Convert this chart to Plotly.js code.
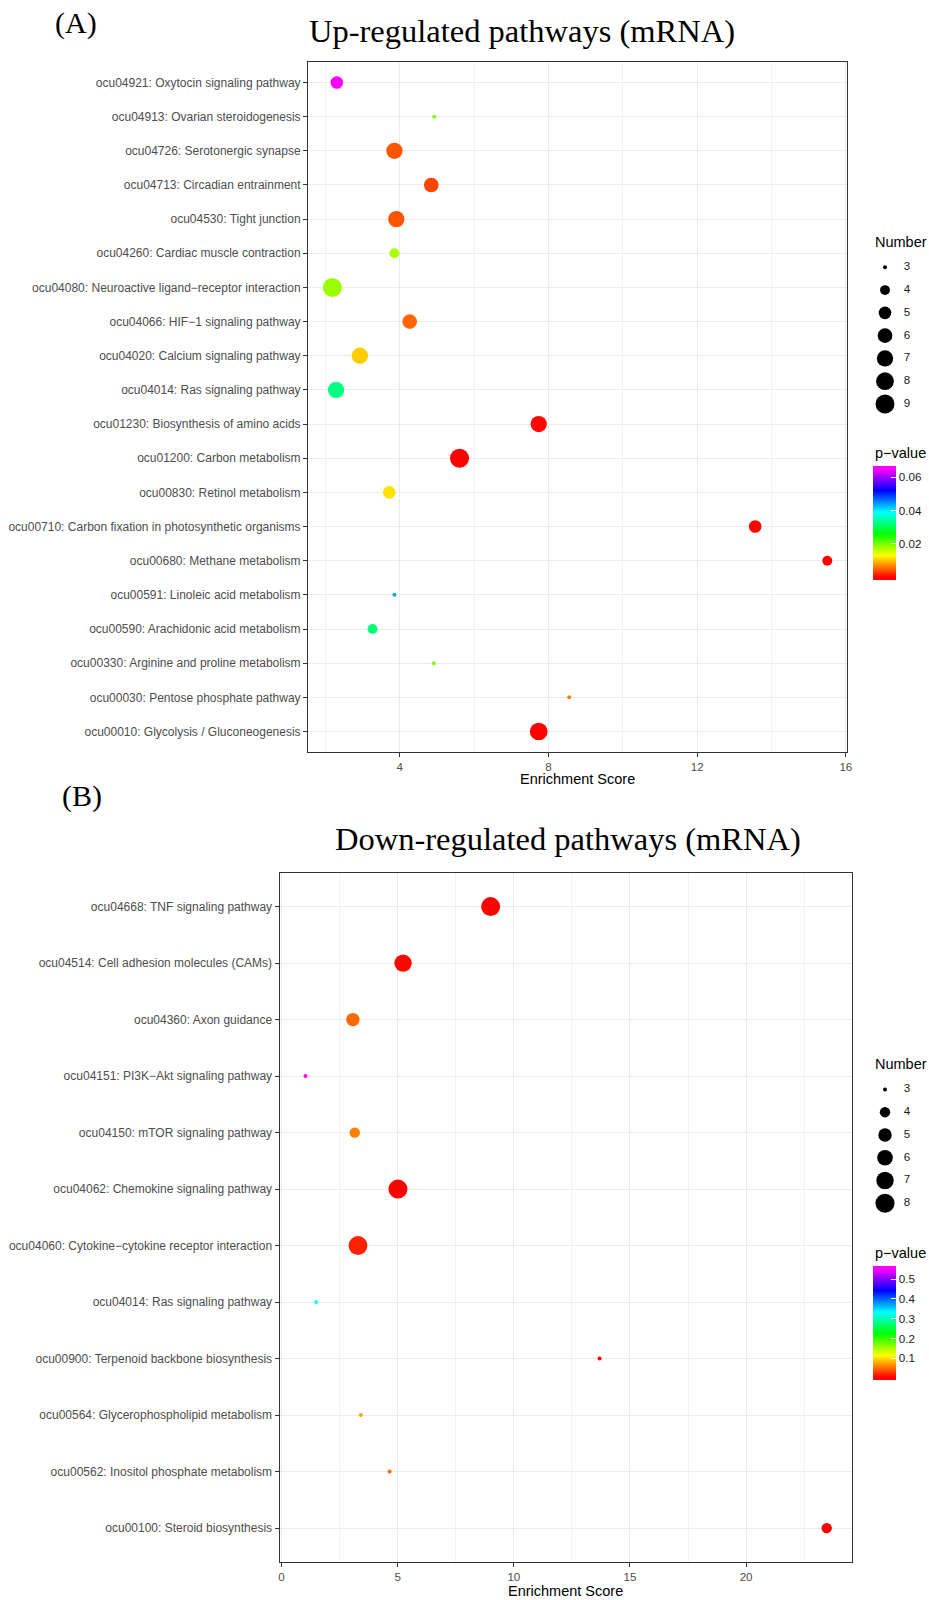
<!DOCTYPE html>
<html>
<head>
<meta charset="utf-8">
<script src="https://cdn.plot.ly/plotly-3.0.1.min.js"></script>
<style>html,body{margin:0;padding:0;background:#fff;}#chart{width:929px;height:1600px;}</style>
</head>
<body>
<div id="chart"></div>
<script>
// ---------------- DATA ----------------
const titleA = "Up-regulated pathways (mRNA)";
const titleB = "Down-regulated pathways (mRNA)";
const panelA = "(A)";
const panelB = "(B)";
const xTitle = "Enrichment Score";
const sizeTitle = "Number";
const colorTitle = "p\u2212value";

const pathwaysA = [
  "ocu04921: Oxytocin signaling pathway",
  "ocu04913: Ovarian steroidogenesis",
  "ocu04726: Serotonergic synapse",
  "ocu04713: Circadian entrainment",
  "ocu04530: Tight junction",
  "ocu04260: Cardiac muscle contraction",
  "ocu04080: Neuroactive ligand\u2212receptor interaction",
  "ocu04066: HIF\u22121 signaling pathway",
  "ocu04020: Calcium signaling pathway",
  "ocu04014: Ras signaling pathway",
  "ocu01230: Biosynthesis of amino acids",
  "ocu01200: Carbon metabolism",
  "ocu00830: Retinol metabolism",
  "ocu00710: Carbon fixation in photosynthetic organisms",
  "ocu00680: Methane metabolism",
  "ocu00591: Linoleic acid metabolism",
  "ocu00590: Arachidonic acid metabolism",
  "ocu00330: Arginine and proline metabolism",
  "ocu00030: Pentose phosphate pathway",
  "ocu00010: Glycolysis / Gluconeogenesis"
];
const scoreA  = [2.31, 4.93, 3.86, 4.85, 3.91, 3.86, 2.19, 4.27, 2.93, 2.29, 7.74, 5.61, 3.72, 13.56, 15.50, 3.86, 3.27, 4.92, 8.56, 7.74];
const numberA = [5, 3, 7, 6, 7, 4, 9, 6, 7, 7, 7, 9, 5, 5, 4, 3, 4, 3, 3, 8];
const pvalA   = [0.065, 0.0195, 0.0043, 0.0035, 0.0043, 0.0173, 0.0182, 0.0052, 0.0104, 0.0325, 0.0003, 0.0001, 0.0115, 0.0002, 0.0001, 0.0433, 0.0320, 0.0195, 0.0065, 0.0001];
const sizeBreaksA = [3, 4, 5, 6, 7, 8, 9];
const colorTicksA = [0.02, 0.04, 0.06];
const pLimitsA = [0.0, 0.065];

const pathwaysB = [
  "ocu04668: TNF signaling pathway",
  "ocu04514: Cell adhesion molecules (CAMs)",
  "ocu04360: Axon guidance",
  "ocu04151: PI3K\u2212Akt signaling pathway",
  "ocu04150: mTOR signaling pathway",
  "ocu04062: Chemokine signaling pathway",
  "ocu04060: Cytokine\u2212cytokine receptor interaction",
  "ocu04014: Ras signaling pathway",
  "ocu00900: Terpenoid backbone biosynthesis",
  "ocu00564: Glycerophospholipid metabolism",
  "ocu00562: Inositol phosphate metabolism",
  "ocu00100: Steroid biosynthesis"
];
const scoreB  = [9.00, 5.23, 3.07, 1.03, 3.15, 5.01, 3.29, 1.49, 13.69, 3.41, 4.65, 23.47];
const numberB = [8, 7, 5, 3, 4, 8, 8, 3, 3, 3, 3, 4];
const pvalB   = [0.005, 0.008, 0.049, 0.552, 0.060, 0.006, 0.019, 0.333, 0.005, 0.076, 0.049, 0.005];
const sizeBreaksB = [3, 4, 5, 6, 7, 8];
const colorTicksB = [0.1, 0.2, 0.3, 0.4, 0.5];
const pLimitsB = [0.005, 0.552];

// ---------------- STYLE HELPERS ----------------
const W = 929, H = 1600;
const px = v => v / W;            // horizontal pixel -> paper
const py = v => 1 - v / H;        // vertical pixel -> paper
const SANS = "Liberation Sans, Arial, sans-serif";
const SERIF = "Liberation Serif, Times New Roman, serif";
const AXIS_TXT = "#4D4D4D";
const GRID = "#EBEBEB";
const BORDER = "#333333";

function diameterFn(breaks) {
  const lo = Math.sqrt(Math.min(...breaks)), hi = Math.sqrt(Math.max(...breaks));
  return n => 4 + 15 * Math.pow((Math.sqrt(n) - lo) / (hi - lo), 0.6);
}
const diaA = diameterFn(sizeBreaksA);
const diaB = diameterFn(sizeBreaksB);

const rainbow = ["#FF0000", "#FFFF00", "#00FF00", "#00FFFF", "#0000FF", "#FF00FF"];
// ggplot's colorbar places the limits half a bin inside the bar; emulate by padding cmin/cmax
function colorAxis(lim, ticks, topPx) {
  const pad = (lim[1] - lim[0]) * 2.85 / 108.3;
  const cmin = lim[0] - pad, cmax = lim[1] + pad;
  const fr = v => (v - cmin) / (cmax - cmin);
  const scale = [[0, rainbow[0]]];
  rainbow.forEach((c, i) => scale.push([fr(lim[0] + (lim[1] - lim[0]) * i / 5), c]));
  scale.push([1, rainbow[5]]);
  return {
    cmin: cmin, cmax: cmax, colorscale: scale,
    colorbar: {
      x: px(873), xanchor: "left", xpad: 0,
      y: py(topPx), yanchor: "top", ypad: 0,
      len: 114, lenmode: "pixels",
      thickness: 23, thicknessmode: "pixels",
      outlinewidth: 0,
      tickvals: ticks, ticktext: ticks.map(String),
      ticks: "inside", ticklen: 4.5, tickcolor: "#FFFFFF", tickwidth: 1,
      tickfont: {family: SANS, size: 11.6, color: "#1A1A1A"},
      title: {text: ""}
    }
  };
}

function mainAxisX(domainPx, range, dtick, minorDtick, anchor) {
  return {
    domain: [px(domainPx[0]), px(domainPx[1])], anchor: anchor,
    range: range, tick0: 0, dtick: dtick,
    ticks: "outside", ticklen: 4, tickwidth: 1, tickcolor: BORDER,
    tickfont: {family: SANS, size: 11.6, color: AXIS_TXT},
    showline: true, mirror: true, linecolor: BORDER, linewidth: 1,
    showgrid: true, gridcolor: GRID, gridwidth: 1,
    minor: {tick0: 0, dtick: minorDtick, showgrid: true, gridcolor: "#F2F2F2", gridwidth: 1},
    zeroline: false, fixedrange: true
  };
}
function mainAxisY(domainPx, cats, anchor) {
  return {
    domain: [py(domainPx[1]), py(domainPx[0])], anchor: anchor,
    type: "category", categoryorder: "array", categoryarray: cats,
    range: [cats.length - 0.4, -0.6],
    ticks: "outside", ticklen: 4, tickwidth: 1, tickcolor: BORDER,
    tickfont: {family: SANS, size: 12, color: AXIS_TXT},
    showline: true, mirror: true, linecolor: BORDER, linewidth: 1,
    showgrid: true, gridcolor: GRID, gridwidth: 1,
    zeroline: false, fixedrange: true
  };
}
function legendAxisX(anchor) {
  return {domain: [px(870), px(929)], range: [-1, 2.933], visible: false, anchor: anchor, fixedrange: true};
}
function legendAxisY(breaks, firstPx, anchor) {
  const step = 22.78;
  const lo = Math.min(...breaks), hi = Math.max(...breaks);
  const top = firstPx - step, bottom = firstPx + (hi - lo) * step + step;
  return {domain: [py(bottom), py(top)], range: [hi + 1, lo - 1], visible: false, anchor: anchor, fixedrange: true};
}

// ---------------- TRACES ----------------
const traces = [
  {
    type: "scatter", mode: "markers", x: scoreA, y: pathwaysA, xaxis: "x", yaxis: "y",
    marker: {size: numberA.map(diaA), color: pvalA, coloraxis: "coloraxis", line: {width: 0}, opacity: 1},
    cliponaxis: false, hoverinfo: "x+y"
  },
  {
    type: "scatter", mode: "markers", x: scoreB, y: pathwaysB, xaxis: "x2", yaxis: "y2",
    marker: {size: numberB.map(diaB), color: pvalB, coloraxis: "coloraxis2", line: {width: 0}, opacity: 1},
    cliponaxis: false, hoverinfo: "x+y"
  },
  {
    type: "scatter", mode: "markers", x: sizeBreaksA.map(() => 0), y: sizeBreaksA, xaxis: "x3", yaxis: "y3",
    marker: {size: sizeBreaksA.map(diaA), color: "#000000", line: {width: 0}, opacity: 1}, cliponaxis: false, hoverinfo: "skip"
  },
  {
    type: "scatter", mode: "text", x: sizeBreaksA.map(() => 1.25), y: sizeBreaksA, xaxis: "x3", yaxis: "y3",
    text: sizeBreaksA.map(String), textposition: "middle right",
    textfont: {family: SANS, size: 11.6, color: "#1A1A1A"}, cliponaxis: false, hoverinfo: "skip"
  },
  {
    type: "scatter", mode: "markers", x: sizeBreaksB.map(() => 0), y: sizeBreaksB, xaxis: "x4", yaxis: "y4",
    marker: {size: sizeBreaksB.map(diaB), color: "#000000", line: {width: 0}, opacity: 1}, cliponaxis: false, hoverinfo: "skip"
  },
  {
    type: "scatter", mode: "text", x: sizeBreaksB.map(() => 1.25), y: sizeBreaksB, xaxis: "x4", yaxis: "y4",
    text: sizeBreaksB.map(String), textposition: "middle right",
    textfont: {family: SANS, size: 11.6, color: "#1A1A1A"}, cliponaxis: false, hoverinfo: "skip"
  }
];

function ann(text, xPx, yPx, size, family, xanchor) {
  return {text: text, x: px(xPx), y: py(yPx), xref: "paper", yref: "paper",
          xanchor: xanchor || "center", yanchor: "middle", showarrow: false,
          font: {family: family, size: size, color: "#000000"}};
}

const layout = {
  width: W, height: H,
  margin: {l: 0, r: 0, t: 0, b: 0, pad: 0},
  paper_bgcolor: "#FFFFFF", plot_bgcolor: "#FFFFFF",
  showlegend: false,
  font: {family: SANS, color: "#000000"},
  xaxis: mainAxisX([308, 847], [1.535, 16.03], 4, 2, "y"),
  yaxis: mainAxisY([62, 752], pathwaysA, "x"),
  xaxis2: mainAxisX([279.5, 852], [-0.09, 24.56], 5, 2.5, "y2"),
  yaxis2: mainAxisY([872.7, 1562], pathwaysB, "x2"),
  xaxis3: legendAxisX("y3"),
  yaxis3: legendAxisY(sizeBreaksA, 267.3, "x3"),
  xaxis4: legendAxisX("y4"),
  yaxis4: legendAxisY(sizeBreaksB, 1089.4, "x4"),
  coloraxis: colorAxis(pLimitsA, colorTicksA, 466),
  coloraxis2: colorAxis(pLimitsB, colorTicksB, 1266),
  annotations: [
    ann(panelA, 76, 23, 30, SERIF),
    ann(titleA, 521.5, 31, 32.5, SERIF),
    ann(xTitle, 577.5, 779, 14.5, SANS),
    ann(sizeTitle, 873, 241.7, 14.5, SANS, "left"),
    ann(colorTitle, 873, 453, 14.5, SANS, "left"),
    ann(panelB, 82, 796, 30, SERIF),
    ann(titleB, 568, 839, 32.5, SERIF),
    ann(xTitle, 565.8, 1590.5, 14.5, SANS),
    ann(sizeTitle, 873, 1063.7, 14.5, SANS, "left"),
    ann(colorTitle, 873, 1252.5, 14.5, SANS, "left")
  ]
};

Plotly.newPlot("chart", traces, layout, {displayModeBar: false, staticPlot: true});
</script>
</body>
</html>
